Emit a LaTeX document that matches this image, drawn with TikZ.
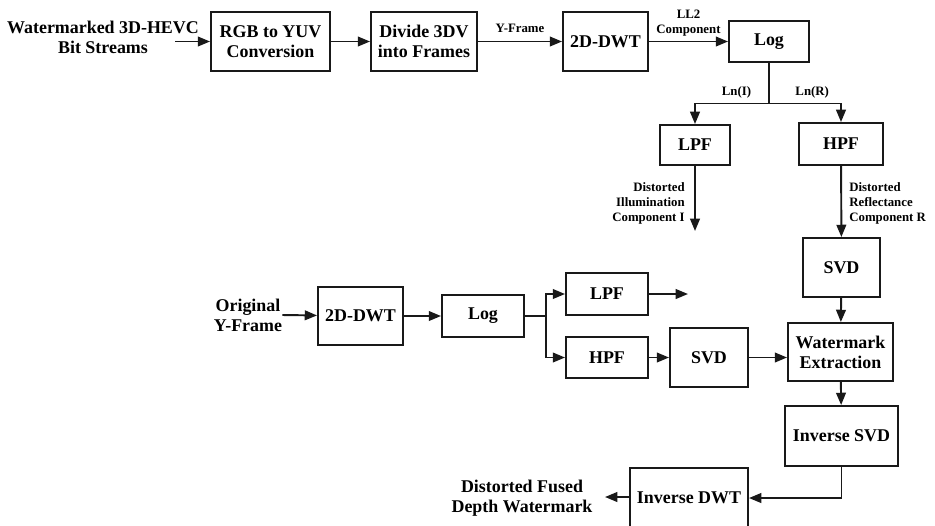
\documentclass[tikz,border=0pt]{standalone}
\usepackage{fontspec}
\setmainfont{Liberation Serif}
\usepackage{tikz}
\usetikzlibrary{arrows.meta, calc}

\begin{document}
\begin{tikzpicture}[
        x=0.02cm, y=-0.02cm,
        block/.style={rectangle, draw=black!90, line width=1.1pt, fill=white, align=center, inner sep=1pt, font=\bfseries\fontsize{10.2}{11.5}\selectfont},
        txt/.style={align=center, inner sep=0pt, font=\bfseries\fontsize{10.2}{11.3}\selectfont},
        lbl/.style={align=center, inner sep=1.5pt, font=\bfseries\fontsize{7.3}{8.5}\selectfont},
        arrow/.style={-{Triangle[length=7pt, width=5.5pt]}, line width=1.1pt, draw=black!90},
        line/.style={line width=1.1pt, draw=black!90}
    ]
    \useasboundingbox (0,0) rectangle (935,525);
    \node[txt] (bits) at (103,37) {Watermarked 3D-HEVC\\Bit Streams};
    \coordinate (bitsout) at (175,41.5);
    \node[block, minimum width=2.38cm, minimum height=1.18cm] (rgb) at (270.5,41.5) {RGB to YUV\\Conversion};
    \node[block, minimum width=2.12cm, minimum height=1.18cm] (divide) at (424,41.5) {Divide 3DV\\into Frames};
    \node[block, minimum width=1.70cm, minimum height=1.18cm] (dwta) at (605.5,41.5) {2D-DWT};
    \node[block, minimum width=1.60cm, minimum height=0.82cm] (loga) at (769,41.5) {Log};
    \node[block, minimum width=1.40cm, minimum height=0.80cm] (lpfa) at (695,145) {LPF};
    \node[block, minimum width=1.68cm, minimum height=0.84cm] (hpfa) at (841,144) {HPF};
    \coordinate (lpfaout) at (695,231);
    \node[lbl, align=right, anchor=east, inner sep=0pt] (illum) at (685,203) {Distorted\\Illumination\\Component I};
    \node[lbl, align=left, anchor=west, inner sep=0pt] (refl) at (849,203) {Distorted\\Reflectance\\Component R};
    \node[block, minimum width=1.54cm, minimum height=1.18cm] (svda) at (841.5,267.5) {SVD};
    \node[block, minimum width=2.10cm, minimum height=1.16cm] (wext) at (840.5,352) {Watermark\\Extraction};
    \node[block, minimum width=2.26cm, minimum height=1.20cm] (isvd) at (841.5,436) {Inverse SVD};
    \node[block, minimum width=2.36cm, minimum height=1.20cm] (idwt) at (689,498) {Inverse DWT};
    \coordinate (idwtout) at (605,497);
    \node[txt] (fused) at (522,498) {Distorted Fused\\Depth Watermark};
    \node[txt] (orig) at (248,315) {Original\\Y-Frame};
    \node[block, minimum width=1.70cm, minimum height=1.16cm] (dwtb) at (360.5,316) {2D-DWT};
    \node[block, minimum width=1.64cm, minimum height=0.84cm] (logb) at (483,316) {Log};
    \node[block, minimum width=1.64cm, minimum height=0.84cm] (lpfb) at (607,294) {LPF};
    \node[block, minimum width=1.64cm, minimum height=0.82cm] (hpfb) at (607,357.5) {HPF};
    \coordinate (lpfbout) at (688,294);
    \node[block, minimum width=1.56cm, minimum height=1.18cm] (svdb) at (709,357.5) {SVD};
    \draw[arrow] (bitsout) -- (rgb);
    \draw[arrow] (rgb) -- (divide);
    \draw[arrow] (divide) -- node[lbl, above=3pt] {Y-Frame} (dwta);
    \draw[arrow] (dwta) -- node[lbl, above=1pt] {LL2\\Component} (loga);
    \draw[line] (loga.south) -- ++(0,40.5) coordinate (split);
    \draw[arrow] (split) -| node[lbl, pos=0.22, above=1pt] {Ln(I)} (lpfa);
    \draw[arrow] (split) -| node[lbl, pos=0.3, above=1pt] {Ln(R)} (hpfa);
    \draw[arrow] (lpfa) -- (lpfaout);
    \draw[arrow] (hpfa) -- (svda);
    \draw[arrow] (svda) -- (wext);
    \draw[arrow] (wext) -- (isvd);
    \draw[arrow] (isvd.south) |- (idwt.east);
    \draw[arrow] (idwt.west |- idwtout) -- (idwtout);
    \draw[arrow] (orig.east) -- (dwtb);
    \draw[arrow] (dwtb) -- (logb);
    \draw[line] (logb.east) -- ++(21,0) coordinate (splitb);
    \draw[arrow] (splitb) |- (lpfb);
    \draw[arrow] (splitb) |- (hpfb);
    \draw[arrow] (lpfb) -- (lpfbout);
    \draw[arrow] (hpfb) -- (svdb);
    \draw[arrow] (svdb) -- (svdb -| wext.west);
\end{tikzpicture}
\end{document}
